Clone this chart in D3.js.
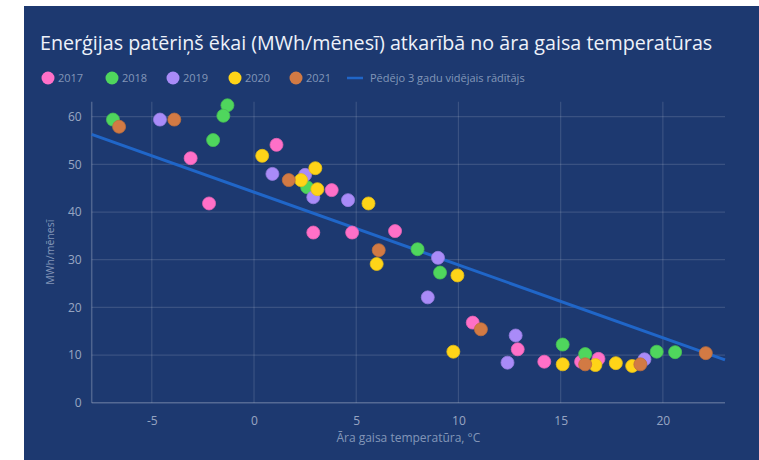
<!DOCTYPE html>
<html><head><meta charset="utf-8">
<script src="https://cdn.jsdelivr.net/npm/d3@7"></script>
<style>
html,body{margin:0;padding:0;background:#fff;}
svg{display:block;font-family:"Open Sans","Noto Sans",sans-serif;}
</style></head>
<body><svg id="c" width="759" height="460"></svg>
<script>
const years = ["2017","2018","2019","2020","2021"];
const colors = ["#ff70c8","#4fd65d","#a98bf8","#ffd418","#d27a44"];
const temp2017 = [-3.1,-2.2,1.1,3.8,2.9,4.8,6.9,10.7,12.9,14.2,16.0,16.85];
const mwh2017 = [51.3,41.8,54.1,44.6,35.7,35.7,36.0,16.8,11.2,8.6,8.6,9.2];
const temp2018 = [-6.9,-1.3,-1.5,-2.0,2.6,8.0,9.1,15.1,16.2,19.7,20.6];
const mwh2018 = [59.4,62.4,60.2,55.1,45.2,32.2,27.3,12.2,10.2,10.7,10.6];
const temp2019 = [-4.6,0.9,2.5,2.9,4.6,9.0,8.5,12.8,12.4,19.1];
const mwh2019 = [59.4,48.0,47.8,43.1,42.5,30.4,22.1,14.1,8.4,9.1];
const temp2020 = [0.4,2.3,3.0,3.1,5.6,6.0,9.95,9.75,15.1,16.7,17.7,18.5];
const mwh2020 = [51.8,46.7,49.2,44.8,41.8,29.1,26.7,10.7,8.05,7.9,8.3,7.7];
const temp2021 = [-6.6,-3.9,1.7,6.1,11.1,16.2,18.9,22.1];
const mwh2021 = [57.9,59.4,46.7,32.0,15.4,8.05,8.05,10.4];
const trendTemp = [-7.94,23.04];
const trendMwh = [56.3,9.0];
const xTicks = [-5,0,5,10,15,20];
const yTicks = [0,10,20,30,40,50,60];
const title = "Enerģijas patēriņš ēkai (MWh/mēnesī) atkarībā no āra gaisa temperatūras";
const trendLabel = "Pēdējo 3 gadu vidējais rādītājs";
const xTitle = "Āra gaisa temperatūra, °C";
const yTitle = "MWh/mēnesī";

const series = [
  {name:years[0], t:temp2017, v:mwh2017, c:colors[0]},
  {name:years[1], t:temp2018, v:mwh2018, c:colors[1]},
  {name:years[2], t:temp2019, v:mwh2019, c:colors[2]},
  {name:years[3], t:temp2020, v:mwh2020, c:colors[3]},
  {name:years[4], t:temp2021, v:mwh2021, c:colors[4]}
];

const svg = d3.select("#c");
const bg = "#1d3970";
svg.append("rect").attr("x",24).attr("y",6).attr("width",735).attr("height",454).attr("fill",bg);

const L=91.7, R=725, T=101.7, B=402.7;
const x = d3.scaleLinear().domain([-7.94,23.04]).range([L,R]);
const y = d3.scaleLinear().domain([0,63.15]).range([B,T]);

const grid = svg.append("g");
xTicks.forEach(t=>{
  grid.append("line").attr("x1",x(t)).attr("x2",x(t)).attr("y1",T).attr("y2",B)
    .attr("stroke","rgba(255,255,255,0.13)").attr("stroke-width",1.2);
});
yTicks.filter(t=>t>0).forEach(t=>{
  grid.append("line").attr("x1",L).attr("x2",R).attr("y1",y(t)).attr("y2",y(t))
    .attr("stroke","rgba(255,255,255,0.13)").attr("stroke-width",1.2);
});
grid.append("line").attr("x1",L).attr("x2",R).attr("y1",y(0)).attr("y2",y(0))
  .attr("stroke","rgba(255,255,255,0.25)").attr("stroke-width",1.5);
grid.append("line").attr("x1",L).attr("x2",L).attr("y1",T).attr("y2",B)
  .attr("stroke","rgba(255,255,255,0.22)").attr("stroke-width",1.5);

const tickCol = "rgba(230,236,248,0.62)";
const xAxis = d3.axisBottom(x).tickValues(xTicks).tickSize(0).tickPadding(14).tickFormat(d=>d<0?"-"+Math.abs(d):d);
const gx = svg.append("g").attr("transform",`translate(0,${B})`).call(xAxis);
gx.select(".domain").remove();
gx.selectAll("text").attr("fill",tickCol).attr("font-size",12).attr("font-family","Open Sans, sans-serif");

const yAxis = d3.axisLeft(y).tickValues(yTicks).tickSize(0).tickPadding(10);
const gy = svg.append("g").attr("transform",`translate(${L},0)`).call(yAxis);
gy.select(".domain").remove();
gy.selectAll("text").attr("fill",tickCol).attr("font-size",12).attr("font-family","Open Sans, sans-serif");

const lineGen = d3.line().x(d=>x(d[0])).y(d=>y(d[1]));
svg.append("path").datum(trendTemp.map((t,i)=>[t,trendMwh[i]]))
  .attr("d",lineGen).attr("fill","none").attr("stroke","#2066c8").attr("stroke-width",3);

series.forEach(s=>{
  svg.append("g").selectAll("circle").data(s.t.map((t,i)=>[t,s.v[i]])).join("circle")
    .attr("cx",d=>x(d[0])).attr("cy",d=>y(d[1])).attr("r",6.5)
    .attr("fill",s.c).attr("stroke",d3.color(s.c).darker(0.3)).attr("stroke-width",0.8);
});

svg.append("text").attr("x",40).attr("y",50).text(title)
  .attr("fill","#eef2fa").attr("font-size",19.7).attr("font-family","Open Sans, sans-serif");

const legCol = "rgba(220,228,245,0.55)";
const leg = svg.append("g");
const legX = [48,112,173,235,296];
series.forEach((s,i)=>{
  leg.append("circle").attr("cx",legX[i]).attr("cy",78).attr("r",6.5).attr("fill",s.c);
  leg.append("text").attr("x",legX[i]+10).attr("y",82).text(s.name)
    .attr("fill",legCol).attr("font-size",11).attr("font-family","Open Sans, sans-serif");
});
leg.append("line").attr("x1",347).attr("x2",363).attr("y1",78).attr("y2",78)
  .attr("stroke","#2066c8").attr("stroke-width",2.5);
leg.append("text").attr("x",370).attr("y",82).text(trendLabel)
  .attr("fill",legCol).attr("font-size",11).attr("font-family","Open Sans, sans-serif");

svg.append("text").attr("x",(L+R)/2).attr("y",442).attr("text-anchor","middle").text(xTitle)
  .attr("fill",legCol).attr("font-size",12).attr("font-family","Open Sans, sans-serif");
svg.append("text").attr("transform",`translate(54,${(T+B)/2}) rotate(-90)`).attr("text-anchor","middle")
  .text(yTitle).attr("fill",legCol).attr("font-size",10.5).attr("font-family","Open Sans, sans-serif");
</script></body></html>
